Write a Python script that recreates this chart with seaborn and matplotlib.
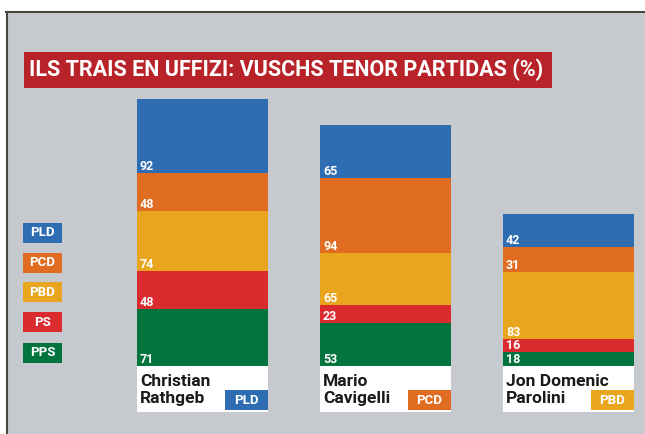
import numpy as np
import pandas as pd
import matplotlib.pyplot as plt
import seaborn as sns
from matplotlib.patches import Rectangle

# -- data --------------------------------------------------
candidates = ["Christian\nRathgeb", "Mario\nCavigelli", "Jon Domenic\nParolini"]
own_party = ["PLD", "PCD", "PBD"]
parties = ["PLD", "PCD", "PBD", "PS", "PPS"]      # top -> bottom of the stack
pld = [92, 65, 42]
pcd = [48, 94, 31]
pbd = [74, 65, 83]
ps = [48, 23, 16]
pps = [71, 53, 18]
party_colors = ["#2e6db2", "#e06c21", "#eaa51f", "#da2b2f", "#04743e"]
title = "ILS TRAIS EN UFFIZI: VUSCHS TENOR PARTIDAS (%)"

df = pd.DataFrame({"cand": candidates, "PLD": pld, "PCD": pcd, "PBD": pbd,
                   "PS": ps, "PPS": pps})
for k, p in enumerate(parties):
    df["top_" + p] = df[parties[k:]].sum(axis=1)
    df["bot_" + p] = df[parties[k + 1:]].sum(axis=1) if k < len(parties) - 1 else 0

col = dict(zip(parties, party_colors))

# -- figure (pixel based layout) ---------------------------
W, H = 645, 434
ppu = 0.802          # pixel per percent unit
base_px = 366        # bottom of the stacks (pixel from top)
step_px = 183        # distance between bar centres
x0_px = 202.5        # centre of the first bar
bw = 131 / step_px

plt.rcParams['font.family'] = ['Roboto', 'DejaVu Sans']
fig = plt.figure(figsize=(W / 100, H / 100), dpi=100)
fig.patch.set_facecolor("white")

def fx(px):
    return px / W

def fy(py):
    return 1 - py / H

# background panel with dark frame on left / top
fig.patches.append(Rectangle((fx(6), 0), 1, fy(12), transform=fig.transFigure,
                             facecolor="#c6c9ce", edgecolor="none", zorder=-2))
fig.lines.append(plt.Line2D([fx(6.5), fx(6.5)], [0, fy(12)], transform=fig.transFigure,
                            color="#4a4640", lw=1.5, zorder=-1))
fig.lines.append(plt.Line2D([fx(6), 1], [fy(12), fy(12)], transform=fig.transFigure,
                            color="#4a4640", lw=1.5, zorder=-1))

ax = fig.add_axes([0, 0, 1, 1])
ax.patch.set_alpha(0)

for p in parties:
    sns.barplot(data=df, x="cand", y="top_" + p, color=col[p], saturation=1,
                width=bw, errorbar=None, linewidth=0, ax=ax, zorder=3)

ax.set_xlim(-x0_px / step_px, (W - x0_px) / step_px)
ax.set_ylim(-(H - base_px) / ppu, base_px / ppu)
ax.axis("off")

def ypx(py):
    return (base_px - py) / ppu

# value labels at the lower left of every segment
for i in range(len(df)):
    for p in parties:
        ax.text(i - bw / 2 + 3 / step_px, df.loc[i, "bot_" + p] + 3 / ppu,
                str(df.loc[i, p]), color="white", fontsize=9, fontweight="bold",
                ha="left", va="baseline", zorder=5)

# name boxes with party tag
for i, (name, tag) in enumerate(zip(candidates, own_party)):
    ax.add_patch(Rectangle((i - bw / 2, ypx(412)), bw, ypx(366) - ypx(412),
                           facecolor="white", edgecolor="none", zorder=3))
    for line, base in zip(name.split("\n"), [386, 403]):
        ax.text(i - bw / 2 + 3 / step_px, ypx(base), line, fontsize=12.5,
                fontweight="bold", color="#1a1a1a", ha="left", va="baseline", zorder=5)
    ax.add_patch(Rectangle((i + bw / 2 - 43 / step_px, ypx(410)), 43 / step_px,
                           ypx(390) - ypx(410), facecolor=col[tag], edgecolor="none",
                           zorder=4))
    ax.text(i + bw / 2 - 21.5 / step_px, ypx(400), tag, fontsize=9.5, fontweight="bold",
            color="white", ha="center", va="center", zorder=5)

# title box
fig.patches.append(Rectangle((fx(24), fy(88)), fx(552) - fx(24), fy(52) - fy(88),
                             transform=fig.transFigure, facecolor="#b8232a",
                             edgecolor="none", zorder=1))
fig.text(fx(29), fy(70), title, fontsize=15.5, fontweight="bold", color="white",
         ha="left", va="center", zorder=2)

# legend tags
leg_top = [223, 253, 282, 312, 343]
for p, t in zip(parties, leg_top):
    fig.patches.append(Rectangle((fx(23), fy(t + 20)), fx(62) - fx(23), fy(t) - fy(t + 20),
                                 transform=fig.transFigure, facecolor=col[p],
                                 edgecolor="none", zorder=1))
    fig.text(fx(42.5), fy(t + 10), p, fontsize=9.5, fontweight="bold", color="white",
             ha="center", va="center", zorder=2)

fig.savefig("out.png", dpi=100)
